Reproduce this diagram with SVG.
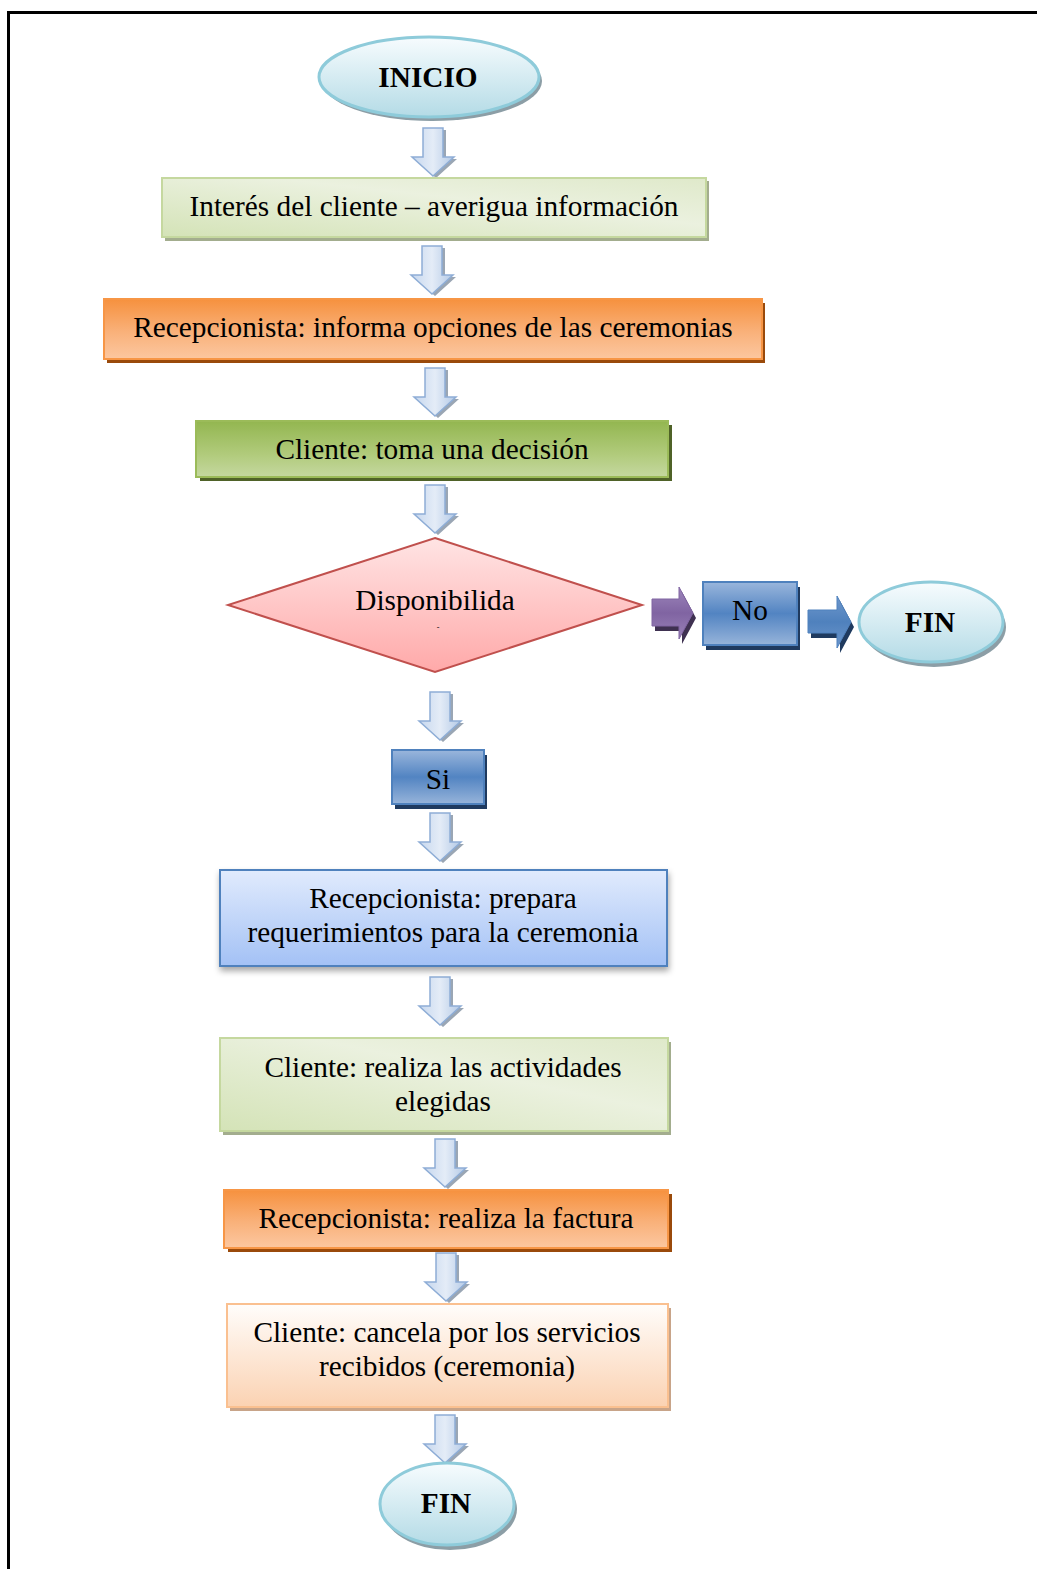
<svg xmlns="http://www.w3.org/2000/svg" width="1037" height="1569" viewBox="0 0 1037 1569">
<defs>
<linearGradient id="gEll" x1="0" y1="0" x2="0" y2="1"><stop offset="0" stop-color="#f7fcfe"/><stop offset="1" stop-color="#b4dbe6"/></linearGradient>
<linearGradient id="gArr" x1="0" y1="0" x2="1" y2="0"><stop offset="0" stop-color="#c6d7ee"/><stop offset="0.5" stop-color="#e4ecf7"/><stop offset="1" stop-color="#b3c9e6"/></linearGradient>
<linearGradient id="gGreenL" x1="0" y1="1" x2="1" y2="0"><stop offset="0" stop-color="#d4e3b7"/><stop offset="0.6" stop-color="#ebf1df"/><stop offset="1" stop-color="#dfe9ca"/></linearGradient>
<linearGradient id="gOrange" x1="0" y1="0" x2="0" y2="1"><stop offset="0" stop-color="#f6913e"/><stop offset="0.55" stop-color="#f9b17a"/><stop offset="1" stop-color="#fcc7a0"/></linearGradient>
<linearGradient id="gGreenD" x1="0" y1="0" x2="0" y2="1"><stop offset="0" stop-color="#93b650"/><stop offset="0.6" stop-color="#b1cb7c"/><stop offset="1" stop-color="#c5d8a0"/></linearGradient>
<linearGradient id="gDiam" x1="0" y1="0" x2="0" y2="1"><stop offset="0" stop-color="#ffe4e4"/><stop offset="1" stop-color="#ffa9a9"/></linearGradient>
<linearGradient id="gBlueBtn" x1="0" y1="0" x2="0" y2="1"><stop offset="0" stop-color="#9ab6dc"/><stop offset="0.5" stop-color="#5284c2"/><stop offset="1" stop-color="#97b4da"/></linearGradient>
<linearGradient id="gPurple" x1="0" y1="0" x2="0" y2="1"><stop offset="0" stop-color="#9d86bb"/><stop offset="0.5" stop-color="#8064a2"/><stop offset="1" stop-color="#9a82b8"/></linearGradient>
<linearGradient id="gBlueArr" x1="0" y1="0" x2="0" y2="1"><stop offset="0" stop-color="#6e97cc"/><stop offset="0.5" stop-color="#4f81bd"/><stop offset="1" stop-color="#6e97cc"/></linearGradient>
<linearGradient id="gBlueBox" x1="0" y1="0" x2="0" y2="1"><stop offset="0" stop-color="#e1ebfd"/><stop offset="1" stop-color="#a3c1f5"/></linearGradient>
<linearGradient id="gPeach" x1="0" y1="0" x2="0" y2="1"><stop offset="0" stop-color="#fffdfb"/><stop offset="1" stop-color="#fbd2b2"/></linearGradient>
<filter id="soft" x="-10%" y="-10%" width="120%" height="130%"><feDropShadow dx="1" dy="4" stdDeviation="3" flood-color="#000" flood-opacity="0.35"/></filter>
<path id="darr" d="M-10,0 H10 V29 H21 L0,48 L-21,29 H-10 Z"/>
</defs>
<style>
.t{font-family:"Liberation Serif","Times New Roman",serif;font-size:29.3px;fill:#000;text-anchor:middle}
.b{font-weight:bold}
.ell{fill:url(#gEll);stroke:#8ecbda;stroke-width:3}
.ellsh{fill:#8c9ea6}
.arr{fill:url(#gArr);stroke:#8eadd6;stroke-width:1.5}
.arrsh{fill:#9aa6b4}
</style>
<path d="M8.5,1569 V12.5 H1037" fill="none" stroke="#000" stroke-width="3"/>

<g id="connectors">
<g transform="translate(433,128)"><use href="#darr" class="arrsh" transform="translate(3,2)"/><use href="#darr" class="arr"/></g>
<g transform="translate(432,246)"><use href="#darr" class="arrsh" transform="translate(3,2)"/><use href="#darr" class="arr"/></g>
<g transform="translate(435,368)"><use href="#darr" class="arrsh" transform="translate(3,2)"/><use href="#darr" class="arr"/></g>
<g transform="translate(435,485)"><use href="#darr" class="arrsh" transform="translate(3,2)"/><use href="#darr" class="arr"/></g>
<g transform="translate(440,692)"><use href="#darr" class="arrsh" transform="translate(3,2)"/><use href="#darr" class="arr"/></g>
<g transform="translate(440,813)"><use href="#darr" class="arrsh" transform="translate(3,2)"/><use href="#darr" class="arr"/></g>
<g transform="translate(440,977)"><use href="#darr" class="arrsh" transform="translate(3,2)"/><use href="#darr" class="arr"/></g>
<g transform="translate(445,1139)"><use href="#darr" class="arrsh" transform="translate(3,2)"/><use href="#darr" class="arr"/></g>
<g transform="translate(446,1253)"><use href="#darr" class="arrsh" transform="translate(3,2)"/><use href="#darr" class="arr"/></g>
<g transform="translate(445,1415)"><use href="#darr" class="arrsh" transform="translate(3,2)"/><use href="#darr" class="arr"/></g>
<path d="M655,604 H682 V592 L696,618 L682,644 V631 H655 Z" fill="#3f3151"/>
<path d="M652,599 H679 V587 L693,613 L679,639 V626 H652 Z" fill="url(#gPurple)" stroke="#8064a2" stroke-width="1"/>
<path d="M811,615 H840 V601 L854,627 L840,653 V638 H811 Z" fill="#1f3a5f"/>
<path d="M808,610 H837 V596 L851,622 L837,648 V633 H808 Z" fill="url(#gBlueArr)" stroke="#4f81bd" stroke-width="1"/>
</g>

<g id="inicio">
<ellipse cx="432" cy="81" rx="110" ry="40" class="ellsh"/>
<ellipse cx="429" cy="77" rx="110" ry="40" class="ell"/>
<text x="428" y="87" class="t b">INICIO</text>
</g>

<g id="interes">
<rect x="165" y="181" width="544" height="60" fill="#a3ad8e"/>
<rect x="162" y="178" width="544" height="59" fill="url(#gGreenL)" stroke="#c5d89f" stroke-width="2"/>
<text x="434" y="216" class="t">Interés del cliente – averigua información</text>
</g>

<g id="informa">
<rect x="107" y="303" width="658" height="60" fill="#9a4a0b"/>
<rect x="104" y="299" width="658" height="60" fill="url(#gOrange)" stroke="#f79646" stroke-width="2"/>
<text x="433" y="337" class="t">Recepcionista: informa opciones de las ceremonias</text>
</g>

<g id="decision">
<rect x="200" y="425" width="472" height="56" fill="#4f6228"/>
<rect x="196" y="421" width="472" height="56" fill="url(#gGreenD)" stroke="#9bbb59" stroke-width="2"/>
<text x="432" y="459" class="t">Cliente: toma una decisión</text>
</g>

<g id="disponibilidad">
<polygon points="435,538 642,605 435,672 228,605" fill="url(#gDiam)" stroke="#c0504d" stroke-width="2"/>
<text x="435" y="610" class="t">Disponibilida</text>
<text x="438" y="630" class="t" style="font-size:8px">-</text>
</g>

<g id="no">
<rect x="706" y="587" width="94" height="63" fill="#1f3a5f"/>
<rect x="703" y="582" width="94" height="63" fill="url(#gBlueBtn)" stroke="#4f81bd" stroke-width="2"/>
<text x="750" y="620" class="t">No</text>
</g>

<g id="fin1">
<ellipse cx="934" cy="627" rx="72" ry="40" class="ellsh"/>
<ellipse cx="931" cy="622" rx="72" ry="40" class="ell"/>
<text x="930" y="632" class="t b">FIN</text>
</g>

<g id="si">
<rect x="395" y="755" width="92" height="54" fill="#1f3a5f"/>
<rect x="392" y="750" width="92" height="54" fill="url(#gBlueBtn)" stroke="#4f81bd" stroke-width="2"/>
<text x="438" y="789" class="t">Si</text>
</g>

<g id="prepara">
<rect x="220" y="870" width="447" height="96" fill="url(#gBlueBox)" stroke="#4f81bd" stroke-width="2" filter="url(#soft)"/>
<text x="443" y="908" class="t">Recepcionista: prepara</text>
<text x="443" y="942" class="t">requerimientos para la ceremonia</text>
</g>

<g id="actividades">
<rect x="223" y="1042" width="448" height="93" fill="#a3ad8e"/>
<rect x="220" y="1038" width="448" height="93" fill="url(#gGreenL)" stroke="#c5d89f" stroke-width="2"/>
<text x="443" y="1077" class="t">Cliente: realiza las actividades</text>
<text x="443" y="1111" class="t">elegidas</text>
</g>

<g id="factura">
<rect x="228" y="1194" width="444" height="58" fill="#9a4a0b"/>
<rect x="224" y="1190" width="444" height="58" fill="url(#gOrange)" stroke="#f79646" stroke-width="2"/>
<text x="446" y="1228" class="t">Recepcionista: realiza la factura</text>
</g>

<g id="cancela">
<rect x="230" y="1308" width="441" height="103" fill="#c8a489"/>
<rect x="227" y="1304" width="441" height="103" fill="url(#gPeach)" stroke="#fac090" stroke-width="2"/>
<text x="447" y="1342" class="t">Cliente: cancela por los servicios</text>
<text x="447" y="1376" class="t">recibidos (ceremonia)</text>
</g>

<g id="fin2">
<ellipse cx="450" cy="1509" rx="67" ry="41" class="ellsh"/>
<ellipse cx="447" cy="1504" rx="67" ry="41" class="ell"/>
<text x="446" y="1513" class="t b">FIN</text>
</g>
</svg>
